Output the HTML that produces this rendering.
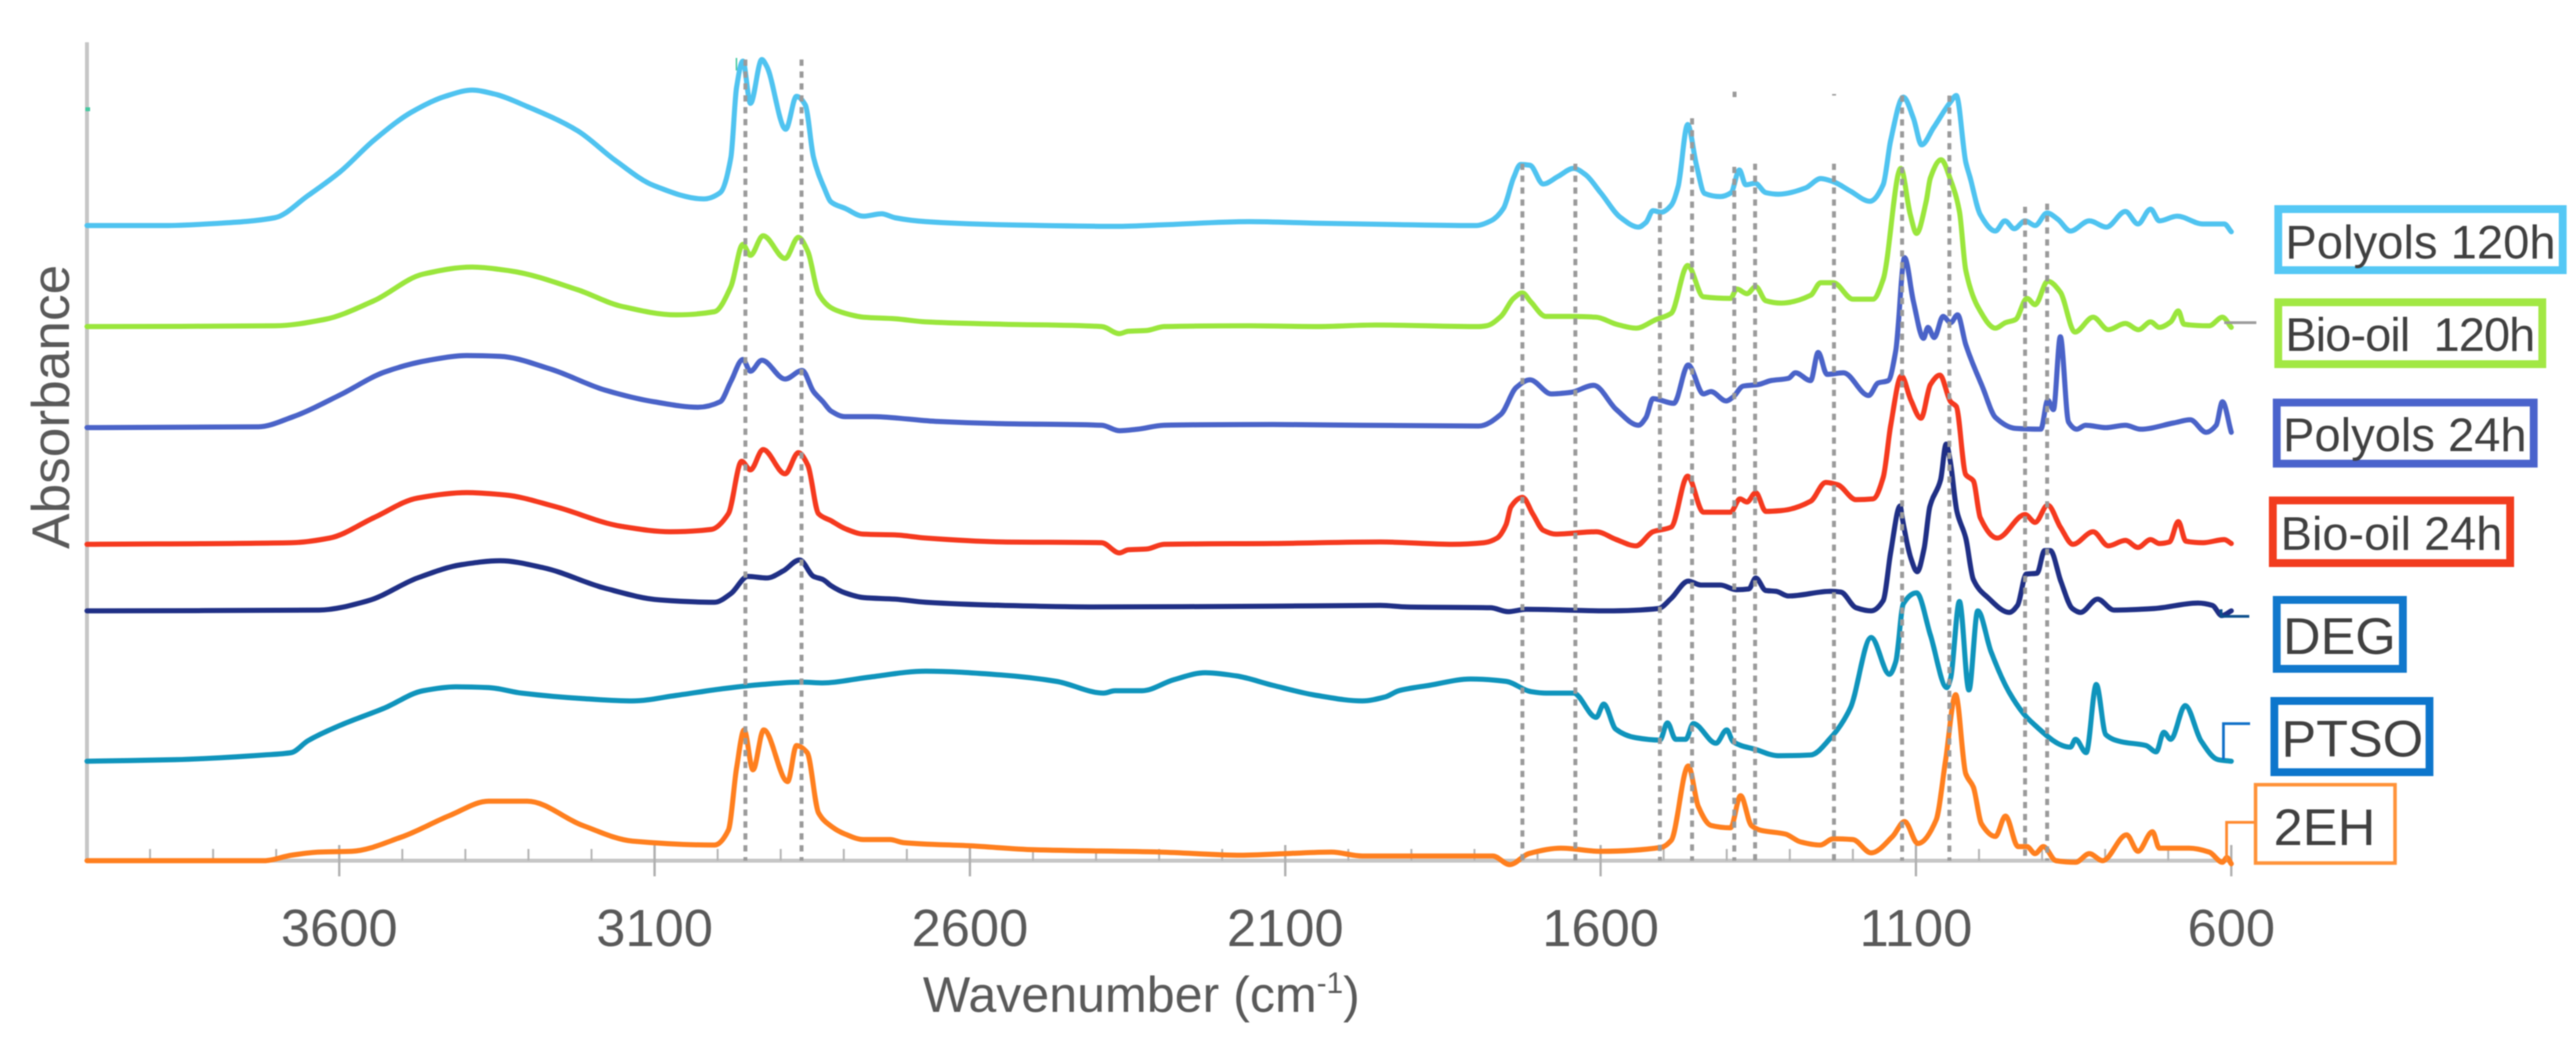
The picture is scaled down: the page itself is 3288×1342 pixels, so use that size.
<!DOCTYPE html>
<html lang="en">
<head>
<meta charset="utf-8">
<title>FTIR spectra</title>
<style>
html,body{margin:0;padding:0;background:#fff;width:3288px;height:1342px;overflow:hidden}
svg{display:block;filter:blur(0.9px)}
text{font-family:"Liberation Sans",sans-serif}
.tick-label{font-size:67px;fill:#595959;text-anchor:middle}
.legend-text{fill:#404040}
</style>
</head>
<body>
<svg id="chart" xmlns="http://www.w3.org/2000/svg" width="3288" height="1342" viewBox="0 0 3288 1342">
  <rect x="0" y="0" width="3288" height="1342" fill="#ffffff"/>
  <g id="axes"></g>
  <rect x="109" y="137" width="6" height="5" fill="#45c9a0"/>
  <rect x="939" y="74" width="2" height="16" fill="#45c9a0"/>
  <g id="series"></g>
  <g id="peaks"></g>
  <rect x="2211.5" y="117" width="5" height="7" fill="#9a9a9a"/>
  <rect x="2338.5" y="120" width="5" height="2" fill="#9a9a9a"/>

  <text transform="translate(88,701) rotate(-90)" font-size="68" fill="#595959">Absorbance</text>
  <text x="1178" y="1292" font-size="64" fill="#595959">Wavenumber (cm<tspan dy="-24" font-size="38">-1</tspan><tspan dy="24">)</tspan></text>

  <g fill="none" stroke-width="3.5">
    <path d="M2839 412H2880" stroke="#9a9a9a"/>
    <path d="M2835 778V787H2871" stroke="#0b4f8c"/>
    <path d="M2872 924H2838V970" stroke="#1070c8"/>
    <path d="M2877 1050H2842V1099" stroke="#ff8a2e"/>
  </g>

  <g fill="none">
    <g>
      <rect x="2908" y="267" width="363" height="78" stroke="#55c8f5" stroke-width="10"/>
      <text class="legend-text" x="2917" y="330" font-size="60" textLength="345" lengthAdjust="spacingAndGlyphs">Polyols 120h</text>
    </g>
    <g>
      <rect x="2908" y="386" width="337" height="79" stroke="#a2e844" stroke-width="10"/>
      <text class="legend-text" x="2917" y="448" font-size="60" textLength="319" lengthAdjust="spacing" xml:space="preserve">Bio-oil  120h</text>
    </g>
    <g>
      <rect x="2906" y="514" width="328" height="78" stroke="#4a63cc" stroke-width="10"/>
      <text class="legend-text" x="2914" y="576" font-size="60" textLength="311" lengthAdjust="spacingAndGlyphs">Polyols 24h</text>
    </g>
    <g>
      <rect x="2901" y="639" width="303" height="80" stroke="#f23c1e" stroke-width="10"/>
      <text class="legend-text" x="2911" y="702" font-size="60" textLength="283" lengthAdjust="spacingAndGlyphs">Bio-oil 24h</text>
    </g>
    <g>
      <rect x="2906" y="766" width="161" height="88" stroke="#1178cc" stroke-width="10"/>
      <text class="legend-text" x="2914" y="835" font-size="66" textLength="144" lengthAdjust="spacingAndGlyphs">DEG</text>
    </g>
    <g>
      <rect x="2903" y="895" width="198" height="91" stroke="#0d76cc" stroke-width="10"/>
      <text class="legend-text" x="2912" y="966" font-size="66" textLength="181" lengthAdjust="spacingAndGlyphs">PTSO</text>
    </g>
    <g>
      <rect x="2879" y="1002" width="178" height="100" stroke="#ff9238" stroke-width="4.5"/>
      <text class="legend-text" x="2902" y="1079" font-size="66" textLength="130" lengthAdjust="spacingAndGlyphs">2EH</text>
    </g>
  </g>
</svg>
<script>
// Wavenumber (cm-1) and stacked absorbance (milli-units above the axis).
const wnPolyols120 = [4000,3877,3789,3702,3650,3598,3545,3485,3432,3389,3354,3302,3222,3162,3101,3022,2996,2979,2970,2960,2948,2930,2922,2892,2875,2861,2848,2831,2820,2798,2769,2740,2719,2670,2548,2363,2292,2157,2050,1907,1798,1774,1754,1738,1727,1712,1691,1667,1643,1624,1600,1568,1540,1528,1517,1504,1488,1477,1462,1448,1435,1410,1393,1380,1370,1355,1338,1318,1275,1251,1231,1204,1173,1152,1140,1120,1104,1091,1072,1045,1036,1021,1014,998,974,959,944,927,911,892,875,855,825,798,768,748,728,714,686,645,611,600];
const absPolyols120 = [811,811,814,821,849,880,920,956,976,984,979,963,932,894,862,845,853,898,987,1021,967,1023,1014,934,976,965,898,859,841,833,823,826,821,816,812,810,812,816,814,812,811,817,833,872,889,888,864,874,884,876,853,821,809,815,830,828,837,861,940,888,852,848,853,882,863,865,853,851,859,871,867,855,842,863,920,975,948,914,936,969,977,892,872,825,804,817,807,817,811,827,819,804,817,809,829,813,832,817,823,813,813,803];

const wnBioOil120 = [4000,3702,3624,3545,3467,3389,3328,3222,3153,3066,3005,2979,2960,2948,2928,2893,2872,2857,2840,2820,2798,2769,2719,2670,2548,2391,2363,2349,2320,2292,2157,2050,1956,1793,1781,1758,1738,1724,1711,1687,1647,1607,1575,1544,1512,1488,1462,1437,1394,1384,1368,1354,1338,1314,1267,1251,1231,1200,1168,1152,1124,1109,1099,1084,1077,1060,1045,1031,1021,1001,974,958,942,924,911,891,871,848,819,795,768,747,728,714,696,684,675,635,614,600];
const absBioOil120 = [682,683,691,715,749,758,753,729,708,697,701,733,787,773,798,769,796,778,724,706,699,694,692,688,685,682,673,676,677,682,683,682,684,682,683,695,718,725,714,695,695,694,685,680,691,699,760,720,718,730,724,733,715,712,722,738,738,717,717,742,884,825,801,841,872,895,869,829,754,706,680,687,691,718,710,740,726,675,694,678,686,678,688,681,688,702,685,683,694,681];

const wnPolyols24 = [4000,3728,3676,3598,3528,3458,3398,3345,3266,3179,3101,3031,2996,2979,2960,2948,2930,2893,2866,2848,2833,2820,2798,2755,2655,2548,2391,2363,2334,2292,2120,1978,1793,1758,1734,1712,1678,1647,1611,1575,1540,1528,1517,1484,1461,1437,1425,1401,1390,1374,1350,1330,1302,1291,1267,1255,1241,1215,1175,1160,1144,1132,1118,1104,1088,1081,1071,1057,1045,1034,1021,994,974,942,902,891,882,871,858,845,831,799,768,744,691,665,640,624,614,600];
const absPolyols24 = [553,554,566,595,624,639,645,644,628,601,586,579,586,612,640,625,639,615,626,599,586,574,567,567,561,558,556,549,551,556,557,556,555,570,604,614,596,598,607,576,556,566,590,584,633,596,599,587,592,606,608,613,616,623,613,649,621,623,594,610,613,651,770,714,667,681,668,695,687,697,659,604,566,552,551,588,576,669,560,551,556,553,556,551,559,563,547,556,586,547];

const wnBioOil24 = [4000,3676,3615,3545,3476,3398,3337,3257,3153,3075,3010,2983,2962,2948,2928,2893,2872,2857,2840,2820,2798,2769,2719,2670,2548,2391,2363,2349,2320,2292,2120,1949,1835,1785,1764,1750,1742,1724,1707,1691,1671,1607,1575,1544,1517,1488,1462,1437,1394,1379,1368,1354,1338,1314,1267,1243,1224,1195,1168,1152,1140,1123,1108,1092,1077,1062,1045,1036,1021,1009,998,971,927,911,891,871,851,819,795,768,748,728,714,698,684,672,645,611,600];
const absBioOil24 = [404,406,412,438,463,470,467,452,427,420,423,443,510,499,525,494,521,505,443,434,424,417,416,412,407,406,393,397,398,404,405,407,404,406,412,429,452,464,442,422,417,420,410,402,420,426,491,445,445,462,458,470,446,447,459,483,480,461,462,489,556,619,588,565,608,620,586,580,493,485,438,412,442,432,454,426,404,420,402,409,400,410,405,407,433,408,406,410,405];

const wnDeg = [4000,3632,3554,3476,3406,3345,3276,3179,3092,3005,2979,2952,2922,2896,2870,2848,2833,2820,2798,2769,2719,2670,2548,2406,2120,1949,1907,1774,1747,1718,1591,1508,1488,1461,1441,1410,1385,1365,1354,1338,1322,1302,1235,1219,1195,1171,1152,1140,1125,1122,1108,1098,1087,1078,1061,1052,1046,1035,1021,1009,986,952,939,925,908,896,887,870,852,839,812,786,722,653,630,615,600];
const absDeg = [319,320,332,361,378,383,374,348,333,330,341,363,361,370,384,363,359,351,342,336,334,330,326,324,325,326,324,323,318,321,319,322,335,357,352,352,346,347,361,345,344,338,344,343,323,319,332,394,453,439,386,369,399,452,486,532,512,446,412,359,336,317,326,366,367,396,396,356,322,317,334,320,322,329,326,313,319];

const wnPtso = [4000,3860,3719,3676,3650,3598,3528,3467,3415,3363,3311,3214,3135,3066,2988,2930,2866,2833,2763,2670,2548,2463,2388,2370,2327,2277,2227,2178,2120,2050,1978,1942,1920,1871,1806,1750,1711,1687,1643,1607,1595,1576,1544,1506,1494,1481,1465,1453,1417,1400,1390,1354,1318,1267,1235,1204,1171,1142,1132,1120,1099,1077,1051,1045,1031,1016,1002,981,950,918,855,847,830,814,799,775,735,719,707,696,673,648,621,600];
const absPtso = [127,129,135,138,153,173,195,217,222,221,214,207,204,211,220,225,228,227,234,242,237,229,214,217,217,231,240,236,224,211,204,209,217,224,232,229,216,214,214,183,200,168,157,154,176,155,155,175,150,167,152,142,134,135,157,195,285,238,254,328,342,288,221,233,331,218,319,267,212,178,145,155,138,225,161,152,147,139,164,155,198,153,129,127];

const wn2eh = [4000,3719,3676,3632,3580,3502,3424,3363,3302,3214,3135,3005,2983,2970,2958,2944,2927,2889,2875,2858,2840,2820,2798,2769,2727,2705,2599,2498,2298,2170,2099,2027,1978,1771,1744,1714,1663,1600,1504,1488,1461,1445,1425,1394,1378,1361,1347,1307,1283,1252,1231,1200,1171,1137,1118,1097,1068,1053,1037,1021,1009,996,974,958,938,924,911,898,878,847,825,804,766,748,725,714,667,635,614,607,600];
const abs2eh = [0,0,7,11,12,30,58,76,76,45,25,20,39,118,167,116,167,101,147,138,61,44,34,27,27,23,19,14,11,7,9,11,6,6,-5,9,16,12,17,26,121,69,45,42,83,45,39,34,24,20,28,27,10,31,50,22,52,128,212,111,94,47,31,57,18,18,9,18,0,-2,9,0,33,12,37,16,16,11,-2,4,-4];

const peakWavenumbers = [2956,2867,1724,1640,1506,1455,1388,1355,1230,1122,1047,927,892];
const peakTops = [1023,1023,890,890,841,948,886,890,890,977,977,835,839];
const xTickLabels = [3600,3100,2600,2100,1600,1100,600];
const xMinorTicks = [3900,3800,3700,3500,3400,3300,3200,3000,2900,2800,2700,2500,2400,2300,2200,2000,1900,1800,1700,1500,1400,1300,1200,1000,900,800,700];

const X_LEFT = 111, X_RIGHT = 2848, Y_BASE = 1099, Y_TOP = 54;
const xScale = w => X_LEFT + (4000 - w) * (X_RIGHT - X_LEFT) / (4000 - 600);
const yScale = v => Y_BASE - v * (Y_BASE - Y_TOP) / 1045;
const NS = 'http://www.w3.org/2000/svg';

function make(tag, parent, attrs) {
  const el = document.createElementNS(NS, tag);
  for (const k in attrs) el.setAttribute(k, attrs[k]);
  parent.appendChild(el);
  return el;
}

// Monotone cubic interpolation so peaks stay rounded without overshoot.
function smoothPath(xs, ys) {
  const px = xs.map(xScale), py = ys.map(yScale), n = px.length;
  const h = [], s = [], m = new Array(n);
  for (let i = 0; i < n - 1; i++) {
    h[i] = (px[i + 1] - px[i]) || 1;
    s[i] = (py[i + 1] - py[i]) / h[i];
  }
  m[0] = s[0];
  m[n - 1] = s[n - 2];
  for (let i = 1; i < n - 1; i++) {
    if (s[i - 1] * s[i] <= 0) { m[i] = 0; continue; }
    const w1 = 2 * h[i] + h[i - 1], w2 = h[i] + 2 * h[i - 1];
    m[i] = (w1 + w2) / (w1 / s[i - 1] + w2 / s[i]);
  }
  let d = 'M' + px[0].toFixed(1) + ' ' + py[0].toFixed(1);
  for (let i = 0; i < n - 1; i++) {
    const t = h[i] / 3;
    d += 'C' + (px[i] + t).toFixed(1) + ' ' + (py[i] + m[i] * t).toFixed(1) + ' ' + (px[i + 1] - t).toFixed(1) + ' ' + (py[i + 1] - m[i + 1] * t).toFixed(1) + ' ' + px[i + 1].toFixed(1) + ' ' + py[i + 1].toFixed(1);
  }
  return d;
}

const axes = document.getElementById('axes');
const yAxis = make('line', axes, {x1: X_LEFT, x2: X_LEFT, y1: Y_TOP, y2: Y_BASE + 2, stroke: '#c6c6c6', 'stroke-width': 5});


const xAxis = make('line', axes, {x1: X_LEFT - 2, x2: X_RIGHT, y1: Y_BASE, y2: Y_BASE, stroke: '#c6c6c6', 'stroke-width': 5});



xMinorTicks.forEach(w => {
  const t = make('line', axes, {x1: xScale(w), x2: xScale(w), y1: Y_BASE - 15, y2: Y_BASE, stroke: '#b4b4b4', 'stroke-width': 2.5});
  
  
});
xTickLabels.forEach(w => {
  const t = make('line', axes, {x1: xScale(w), x2: xScale(w), y1: Y_BASE - 20, y2: Y_BASE + 20, stroke: '#b0b0b0', 'stroke-width': 3});
  
  
  const l = make('text', axes, {x: xScale(w), y: 1208, class: 'tick-label'});
  
  
  l.textContent = w;
});

const seriesGroup = document.getElementById('series');
const seriesDefs = [
  [wn2eh, abs2eh, '#ff7f1e', 'series-2eh'],
  [wnPtso, absPtso, '#0f94bc', 'series-ptso'],
  [wnDeg, absDeg, '#1f2f85', 'series-deg'],
  [wnBioOil24, absBioOil24, '#f5391e', 'series-bio-oil-24h'],
  [wnPolyols24, absPolyols24, '#4a63c8', 'series-polyols-24h'],
  [wnBioOil120, absBioOil120, '#9ae63c', 'series-bio-oil-120h'],
  [wnPolyols120, absPolyols120, '#4fc3f0', 'series-polyols-120h']
];
seriesDefs.forEach(s => {
  const p = make('path', seriesGroup, {d: smoothPath(s[0], s[1]), fill: 'none', stroke: s[2], 'stroke-width': 6.5, 'stroke-linejoin': 'round', 'stroke-linecap': 'round'});
  
  
});

const peaksGroup = document.getElementById('peaks');
peakWavenumbers.forEach((w, i) => {
  const g = make('line', peaksGroup, {x1: xScale(w), x2: xScale(w), y1: yScale(peakTops[i]), y2: Y_BASE, stroke: '#9a9a9a', 'stroke-width': 5, 'stroke-dasharray': '8 7.2'});
  
  
});
</script>
</body>
</html>
